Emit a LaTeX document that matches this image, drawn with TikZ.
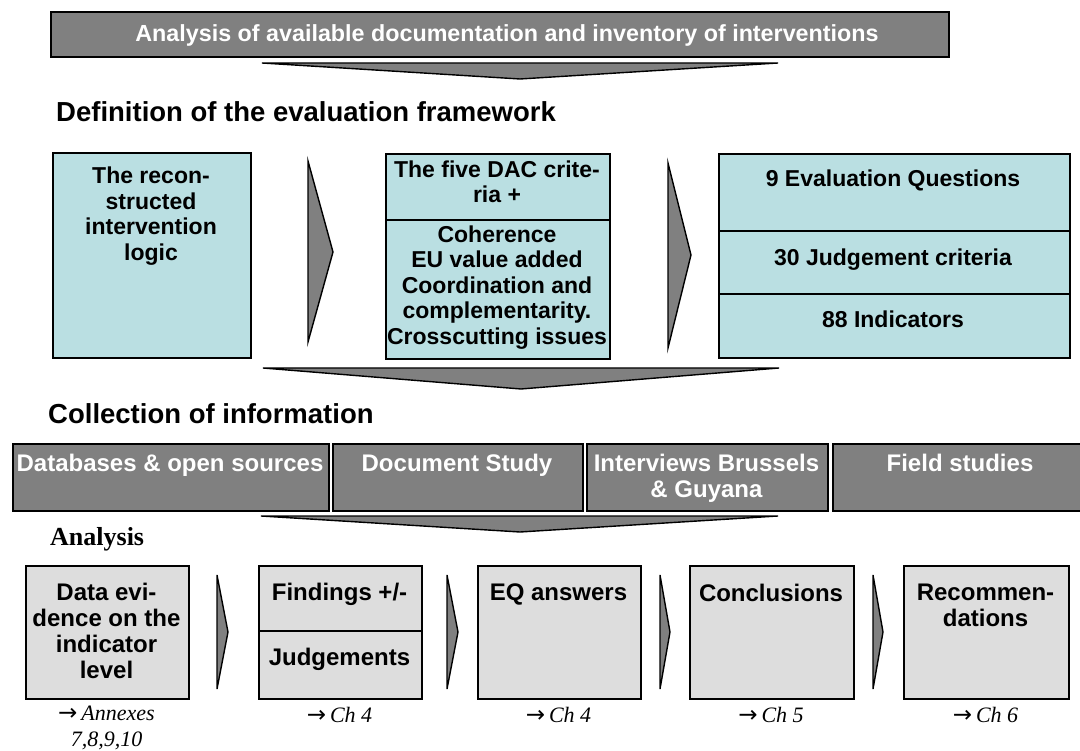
\documentclass[tikz,border=0pt]{standalone}
\usepackage{fontspec}
\setmainfont{Liberation Serif}
\setsansfont{Liberation Sans}
\newfontfamily\arrowfont{DejaVu Sans}
\definecolor{barGray}{RGB}{128,128,128}
\definecolor{frameCyan}{RGB}{186,223,226}
\definecolor{stepGray}{RGB}{221,221,221}
\tikzset{
  frame/.style={draw=black, line width=1.8pt, inner sep=0pt, anchor=north west},
  darkbar/.style={frame, fill=barGray},
  cyanbox/.style={frame, fill=frameCyan},
  stepbox/.style={frame, fill=stepGray},
  blockarrow/.style={fill=barGray, draw=black, line width=1.4pt, line join=miter},
  divider/.style={draw=black, line width=1.8pt},
  boxtext/.style={anchor=north, align=center, inner sep=0pt,
    font={\sffamily\bfseries\fontsize{23}{25.5}\selectfont}},
  steptext/.style={anchor=north, align=center, inner sep=0pt,
    font={\sffamily\bfseries\fontsize{24}{26}\selectfont}},
  whitetext/.style={anchor=north, align=center, inner sep=0pt, text=white,
    font={\sffamily\bfseries\fontsize{24}{26}\selectfont}},
  heading/.style={anchor=base west, inner sep=0pt,
    font={\sffamily\bfseries\fontsize{27.5}{30}\selectfont}},
  serifhead/.style={anchor=base west, inner sep=0pt,
    font={\rmfamily\bfseries\fontsize{26}{28}\selectfont}},
  chapter/.style={anchor=base, align=center, inner sep=0pt,
    font={\rmfamily\itshape\fontsize{22}{22}\selectfont}}
}
\newcommand{\toarrow}{{\arrowfont\fontsize{23}{22}\selectfont →}\kern4pt}
\begin{document}
\begin{tikzpicture}[x=1pt, y=-1pt]
\useasboundingbox (0,0) rectangle (1080,751);
\clip (0,0) rectangle (1080,751);

% first step: documentation analysis
\node[darkbar, minimum width=898, minimum height=45] (inventory) at (50,11) {};
\node[anchor=base, inner sep=0pt, text=white,
      font={\sffamily\bfseries\fontsize{23.3}{25}\selectfont}] (inventory-t) at (507,41.5)
  {Analysis of available documentation and inventory of interventions};
\filldraw[blockarrow] (262,63) -- (778,63) -- (520,79) -- cycle;

% evaluation framework
\node[heading] (framework-h) at (56,122) {Definition of the evaluation framework};

\node[cyanbox, minimum width=198, minimum height=205] (logic) at (52,152) {};
\node[boxtext] (logic-t) at (151,167) {The recon-\\structed\\intervention\\logic};

\filldraw[blockarrow] (308,161) -- (333,252) -- (308,342) -- cycle;

\node[cyanbox, minimum width=224, minimum height=205] (criteria) at (385,153) {};
\draw[divider] (385,220) -- (609,220);
\node[boxtext] (criteria-t) at (497,160.5) {The five DAC crite-\\ria +};
\node[boxtext] (criteria-b) at (497,225.5)
  {Coherence\\EU value added\\Coordination and\\complementarity.\\Crosscutting issues};

\filldraw[blockarrow] (668,163) -- (691,255) -- (668,348) -- cycle;

\node[cyanbox, minimum width=351, minimum height=204] (matrix) at (718,153) {};
\draw[divider] (718,231) -- (1069,231);
\draw[divider] (718,294) -- (1069,294);
\node[boxtext] (eq-t) at (893,169.5) {9 Evaluation Questions};
\node[boxtext] (jc-t) at (893,248.5) {30 Judgement criteria};
\node[boxtext] (ind-t) at (893,310.5) {88 Indicators};

\filldraw[blockarrow] (263,368) -- (779,368) -- (521,389) -- cycle;

% information collection
\node[heading] (collection-h) at (48,424) {Collection of information};

\node[darkbar, minimum width=316, minimum height=67] (databases) at (12,443) {};
\node[darkbar, minimum width=250, minimum height=67] (documents) at (332,443) {};
\node[darkbar, minimum width=241, minimum height=67] (interviews) at (586,443) {};
\node[darkbar, minimum width=256, minimum height=67] (field) at (832,443) {};
\node[whitetext] (databases-t) at (170,453.7) {Databases \& open sources};
\node[whitetext] (documents-t) at (457,453.7) {Document Study};
\node[whitetext] (interviews-t) at (706.5,453.7) {Interviews Brussels\\\& Guyana};
\node[whitetext] (field-t) at (960,453.7) {Field studies};

\filldraw[blockarrow] (261,516) -- (778,516) -- (520,532) -- cycle;

% analysis chain
\node[serifhead] (analysis-h) at (50,545) {Analysis};

\node[stepbox, minimum width=163, minimum height=133] (evidence) at (25,565) {};
\node[stepbox, minimum width=163, minimum height=133] (findings) at (258,565) {};
\draw[divider] (258,631) -- (421,631);
\node[stepbox, minimum width=163, minimum height=133] (answers) at (477,565) {};
\node[stepbox, minimum width=164, minimum height=133] (conclusions) at (689,565) {};
\node[stepbox, minimum width=165, minimum height=133] (recommendations) at (903,565) {};

\filldraw[blockarrow] (217,575) -- (228,632) -- (217,689) -- cycle;
\filldraw[blockarrow] (447,575) -- (458,632) -- (447,689) -- cycle;
\filldraw[blockarrow] (660,575) -- (670,632) -- (660,689) -- cycle;
\filldraw[blockarrow] (873,575) -- (883,632) -- (873,689) -- cycle;

\node[steptext] (evidence-t) at (106.5,582.7) {Data evi-\\dence on the\\indicator\\level};
\node[steptext] (findings-t) at (339.5,582.7) {Findings +/-};
\node[steptext] (judgements-t) at (339.5,647.7) {Judgements};
\node[steptext] (answers-t) at (558.5,583.7) {EQ answers};
\node[steptext] (conclusions-t) at (771,583.7) {Conclusions};
\node[steptext] (recommendations-t) at (985.5,583.7) {Recommen-\\dations};

% report chapters
\node[chapter] (evidence-c) at (106.5,720.5) {\toarrow Annexes};
\node[chapter] (evidence-c2) at (106.5,746.5) {7,8,9,10};
\node[chapter] (findings-c) at (339.5,722) {\toarrow Ch 4};
\node[chapter] (answers-c) at (558.5,722) {\toarrow Ch 4};
\node[chapter] (conclusions-c) at (771,722) {\toarrow Ch 5};
\node[chapter] (recommendations-c) at (985.5,722) {\toarrow Ch 6};
\end{tikzpicture}
\end{document}
